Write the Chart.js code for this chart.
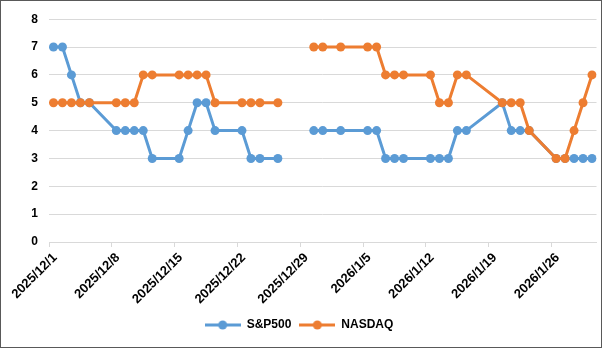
<!DOCTYPE html>
<html>
<head>
<meta charset="utf-8">
<script src="https://cdn.jsdelivr.net/npm/chart.js@4/dist/chart.umd.min.js"></script>
<style>
  html, body { margin: 0; padding: 0; background: #fff; }
  #wrap { width: 600px; height: 346px; border: 1px solid #595959; position: relative; }
</style>
</head>
<body>
<div id="wrap"><canvas id="myChart"></canvas></div>
<script>
  // trading days (2025/12/29 has no value -> gap in the lines)
  const dates = ["2025/12/1", "2025/12/2", "2025/12/3", "2025/12/4", "2025/12/5",
    "2025/12/8", "2025/12/9", "2025/12/10", "2025/12/11", "2025/12/12",
    "2025/12/15", "2025/12/16", "2025/12/17", "2025/12/18", "2025/12/19",
    "2025/12/22", "2025/12/23", "2025/12/24", "2025/12/26", "2025/12/29",
    "2025/12/30", "2025/12/31", "2026/1/2",
    "2026/1/5", "2026/1/6", "2026/1/7", "2026/1/8", "2026/1/9",
    "2026/1/12", "2026/1/13", "2026/1/14", "2026/1/15", "2026/1/16",
    "2026/1/20", "2026/1/21", "2026/1/22", "2026/1/23",
    "2026/1/26", "2026/1/27", "2026/1/28", "2026/1/29", "2026/1/30"];
  const sp500 = [7, 7, 6, 5, 5, 4, 4, 4, 4, 3, 3, 4, 5, 5, 4, 4, 3, 3, 3, null,
    4, 4, 4, 4, 4, 3, 3, 3, 3, 3, 3, 4, 4, 5, 4, 4, 4, 3, 3, 3, 3, 3];
  const nasdaq = [5, 5, 5, 5, 5, 5, 5, 5, 6, 6, 6, 6, 6, 6, 5, 5, 5, 5, 5, null,
    7, 7, 7, 7, 7, 6, 6, 6, 6, 5, 5, 6, 6, 5, 5, 5, 4, 3, 3, 4, 5, 6];
  const startDate = "2025/12/1";
  const endDate = "2026/1/30";

  const DAY = 86400000;
  function toDay(s) {
    const p = s.split("/").map(Number);
    return Date.UTC(p[0], p[1] - 1, p[2]);
  }
  const t0 = toDay(startDate);
  const dayIdx = s => Math.round((toDay(s) - t0) / DAY);
  function fmt(idx) {
    const d = new Date(t0 + idx * DAY);
    return d.getUTCFullYear() + "/" + (d.getUTCMonth() + 1) + "/" + d.getUTCDate();
  }
  const pts = vals => dates.map((d, i) => ({ x: dayIdx(d), y: vals[i] }));

  const blue = "#5B9BD5";
  const orange = "#ED7D31";
  const font = { family: "'Liberation Sans', Arial, sans-serif", size: 12, weight: "bold" };

  function legendIcon(color) {
    const c = document.createElement("canvas");
    c.width = 36; c.height = 10;
    const g = c.getContext("2d");
    g.strokeStyle = color; g.lineWidth = 3;
    g.beginPath(); g.moveTo(0, 5); g.lineTo(36, 5); g.stroke();
    g.fillStyle = color;
    g.beginPath(); g.arc(18, 5, 4.5, 0, Math.PI * 2); g.fill();
    return c;
  }

  const config = {
    type: "line",
    data: {
      datasets: [
        {
          label: "S&P500",
          data: pts(sp500),
          borderColor: blue,
          backgroundColor: blue,
          borderWidth: 3,
          pointRadius: 4.5,
          pointBorderWidth: 0,
          tension: 0,
          order: 2,
        },
        {
          label: "NASDAQ",
          data: pts(nasdaq),
          borderColor: orange,
          backgroundColor: orange,
          borderWidth: 3,
          pointRadius: 4.5,
          pointBorderWidth: 0,
          tension: 0,
          order: 1,
        },
      ],
    },
    options: {
      responsive: true,
      maintainAspectRatio: false,
      animation: false,
      spanGaps: false,
      layout: { padding: { top: 11, right: 4, left: 0, bottom: 6 } },
      plugins: {
        tooltip: { enabled: false },
        legend: {
          position: "bottom",
          labels: {
            font: font,
            color: "#000",
            usePointStyle: true,
            pointStyleWidth: 36,
            padding: 8,
            generateLabels: chart => chart.data.datasets.map((ds, i) => ({
              text: ds.label,
              pointStyle: legendIcon(ds.borderColor),
              fillStyle: ds.borderColor,
              strokeStyle: ds.borderColor,
              lineWidth: 0,
              fontColor: "#000",
              hidden: false,
              datasetIndex: i,
            })),
          },
        },
      },
      scales: {
        x: {
          type: "linear",
          min: -0.5,
          max: toDay(endDate) / DAY - t0 / DAY + 0.5,
          afterBuildTicks: scale => {
            const t = [];
            for (let v = -0.5; v <= scale.max; v += 7) t.push({ value: v });
            scale.ticks = t;
          },
          afterFit: scale => { scale.height = 69; },
          ticks: {
            font: { family: font.family, size: 13, weight: "bold" },
            color: "#000",
            maxRotation: 45,
            minRotation: 45,
            autoSkip: false,
            padding: 3,
            labelOffset: 6,
            callback: v => fmt(v + 0.5),
          },
          grid: { drawOnChartArea: false, drawTicks: true, tickLength: 5, color: "#d9d9d9" },
          border: { color: "#d9d9d9", width: 1 },
        },
        y: {
          min: 0,
          max: 8,
          ticks: { stepSize: 1, font: font, color: "#000", padding: 11 },
          afterFit: scale => { scale.width = 48; },
          grid: { color: "#d9d9d9", drawTicks: false },
          border: { display: false },
        },
      },
    },
  };
  var myChart = new Chart(document.getElementById("myChart"), config);
</script>
</body>
</html>
